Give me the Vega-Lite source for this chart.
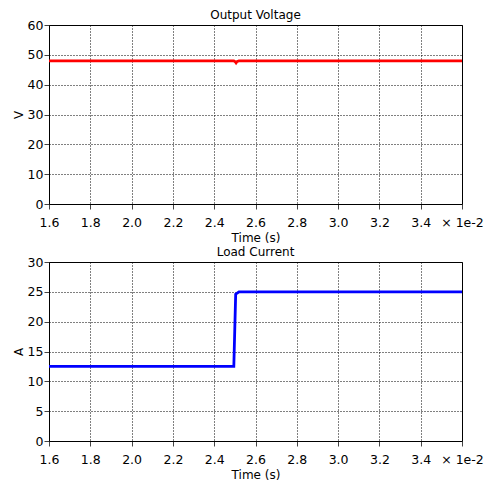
{
  "$schema": "https://vega.github.io/schema/vega-lite/v6.json",
  "padding": {"left": 11, "top": 8, "right": 0, "bottom": 0},
  "background": "white",
  "config": {
    "font": "DejaVu Sans",
    "view": {"stroke": "black", "strokeWidth": 1},
    "title": {"fontSize": 12, "fontWeight": "normal", "color": "black", "offset": -3},
    "axis": {
      "labelFont": "DejaVu Sans", "labelFontSize": 12.5, "labelColor": "black",
      "titleFont": "DejaVu Sans", "titleFontSize": 12, "titleFontWeight": "normal", "titleColor": "black",
      "domainColor": "black", "tickColor": "#444444", "tickSize": 5,
      "labelFlush": false, "labelOverlap": false,
      "gridColor": "black", "gridDash": [1, 2], "gridOpacity": 1, "gridWidth": 1
    },
    "concat": {"spacing": 1}
  },
  "datasets": {
    "voltage": [
      {"t": 0.016, "v": 48},
      {"t": 0.02495, "v": 48},
      {"t": 0.02502, "v": 47.7},
      {"t": 0.02506, "v": 47.3},
      {"t": 0.0251, "v": 47.7},
      {"t": 0.0252, "v": 48},
      {"t": 0.036, "v": 48}
    ],
    "current": [
      {"t": 0.016, "i": 12.5},
      {"t": 0.02495, "i": 12.5},
      {"t": 0.02504, "i": 24.6},
      {"t": 0.0252, "i": 25},
      {"t": 0.036, "i": 25}
    ]
  },
  "vconcat": [
    {
      "title": "Output Voltage",
      "width": 413, "height": 179,
      "data": {"name": "voltage"},
      "mark": {"type": "line", "color": "#ff0000", "strokeWidth": 2.8, "clip": true},
      "encoding": {
        "x": {"field": "t", "type": "quantitative", "title": "Time (s)",
          "scale": {"domain": [0.016, 0.036], "nice": false, "zero": false},
          "axis": {"values": [0.016, 0.018, 0.02, 0.022, 0.024, 0.026, 0.028, 0.03, 0.032, 0.034, 0.036],
            "labelExpr": "datum.value > 0.0359 ? '× 1e-2' : format(datum.value * 100, '.1f')",
            "titlePadding": 4, "labelPadding": 7}},
        "y": {"field": "v", "type": "quantitative", "title": "V",
          "scale": {"domain": [0, 60], "nice": false},
          "axis": {"values": [0, 10, 20, 30, 40, 50, 60], "titlePadding": 2, "labelPadding": 1}}
      }
    },
    {
      "title": "Load Current",
      "width": 413, "height": 179,
      "data": {"name": "current"},
      "mark": {"type": "line", "color": "#0000ff", "strokeWidth": 2.8, "clip": true},
      "encoding": {
        "x": {"field": "t", "type": "quantitative", "title": "Time (s)",
          "scale": {"domain": [0.016, 0.036], "nice": false, "zero": false},
          "axis": {"values": [0.016, 0.018, 0.02, 0.022, 0.024, 0.026, 0.028, 0.03, 0.032, 0.034, 0.036],
            "labelExpr": "datum.value > 0.0359 ? '× 1e-2' : format(datum.value * 100, '.1f')",
            "titlePadding": 4, "labelPadding": 7}},
        "y": {"field": "i", "type": "quantitative", "title": "A",
          "scale": {"domain": [0, 30], "nice": false},
          "axis": {"values": [0, 5, 10, 15, 20, 25, 30], "titlePadding": 2, "labelPadding": 1}}
      }
    }
  ]
}
